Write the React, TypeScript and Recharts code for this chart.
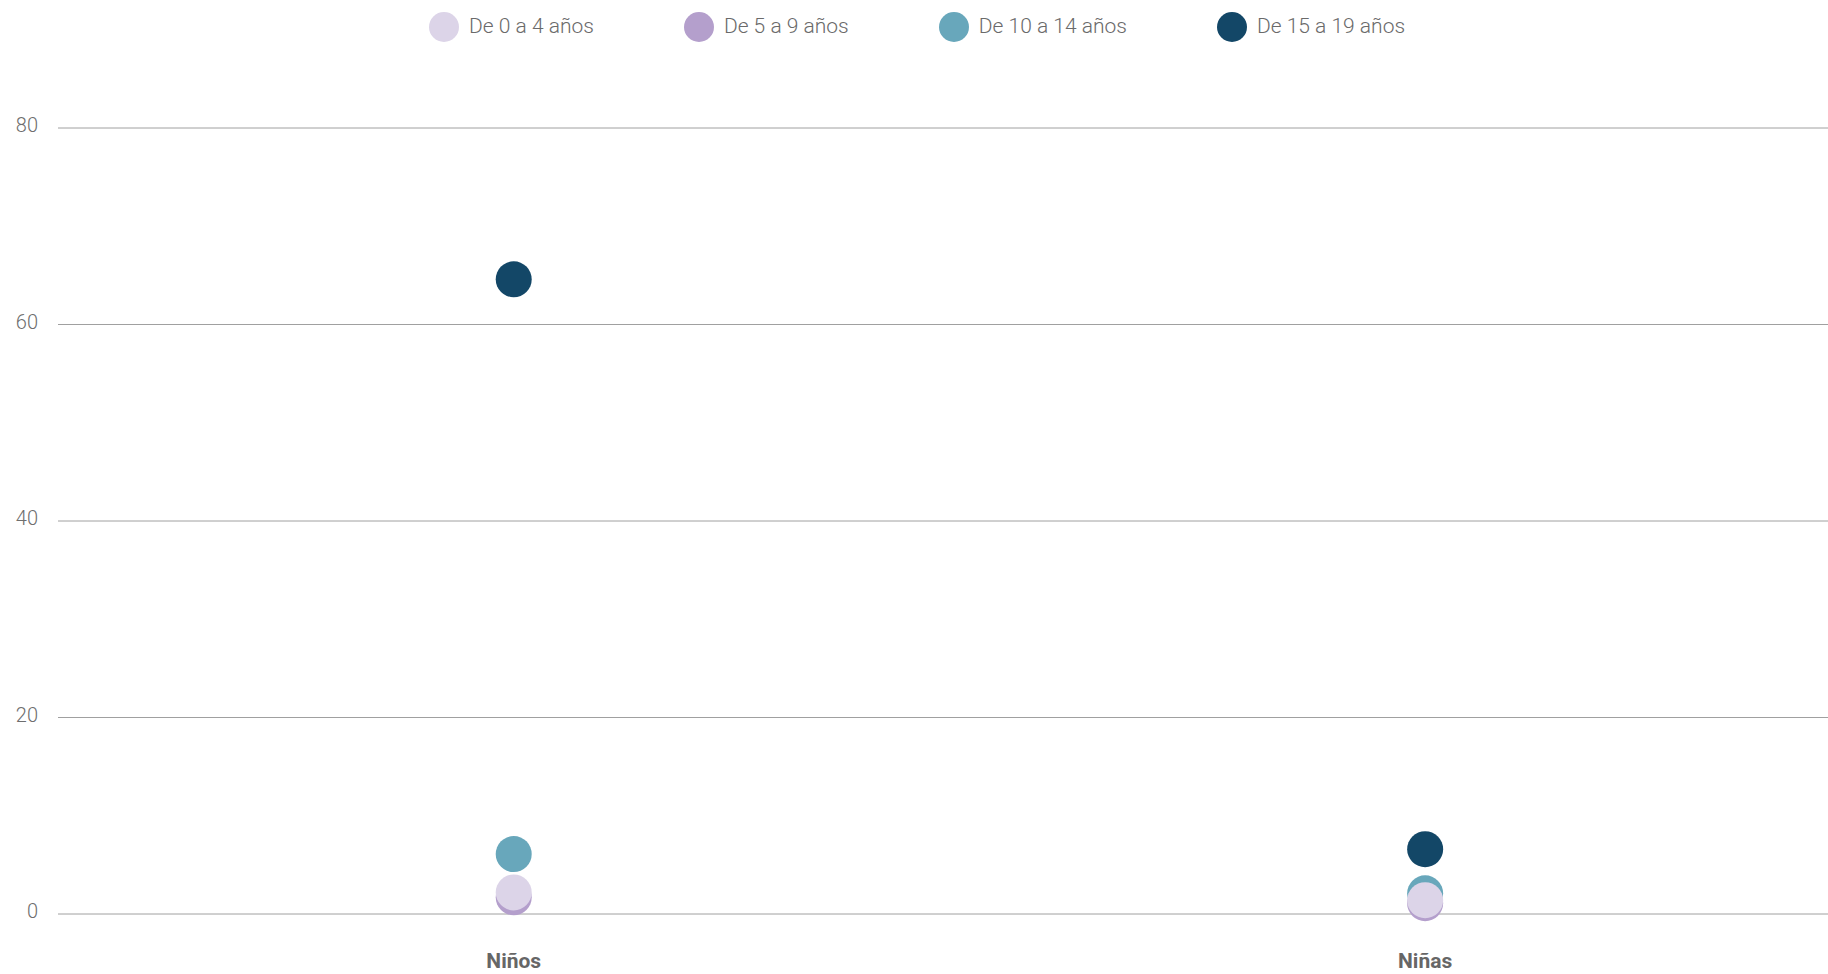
import React from "react";
import { ScatterChart, Scatter, XAxis, YAxis, CartesianGrid } from "recharts";

const categories = ["Niños", "Niñas"];
const seriesNames = ["De 0 a 4 años", "De 5 a 9 años", "De 10 a 14 años", "De 15 a 19 años"];
const seriesColors = ["#dcd4e8", "#b49fcc", "#68a7bb", "#134767"];
const age0to4 = [2.2, 1.4];
const age5to9 = [1.7, 1.1];
const age10to14 = [6.1, 2.1];
const age15to19 = [64.6, 6.6];
const yTicks = [0, 20, 40, 60, 80];

const seriesValues = [age0to4, age5to9, age10to14, age15to19];
const seriesData = seriesValues.map((vals) =>
  vals.map((v, i) => ({ x: i, y: v, cat: categories[i] }))
);

const FONT = "Roboto, 'Liberation Sans', Arial, sans-serif";

const Dot = (color: string) => (props: any) => (
  <circle cx={props.cx} cy={props.cy} r={18} fill={color} />
);

const YTick = (props: any) => (
  <text
    x={props.x}
    y={props.y + 4}
    textAnchor="end"
    fill="#6e6e6e"
    fontSize={20}
    fontWeight={300}
    fontFamily={FONT}
  >
    {props.payload.value}
  </text>
);

const XTick = (props: any) => (
  <text
    x={props.x}
    y={props.y + 54}
    textAnchor="middle"
    fill="#666666"
    fontSize={21}
    fontWeight={700}
    fontFamily={FONT}
  >
    {categories[props.payload.value]}
  </text>
);

export default function App() {
  const order = [3, 2, 1, 0];
  return (
    <div style={{ position: "relative", width: 1828, height: 974, overflow: "hidden" }}>
      <style>{"html,body{margin:0;padding:0;overflow:hidden;}"}</style>
      <div
        style={{
          position: "absolute",
          top: 12,
          left: 429,
          display: "flex",
          alignItems: "center",
          fontFamily: FONT,
          fontSize: 21,
          fontWeight: 300,
          color: "#6a6a6a",
          lineHeight: "30px",
          whiteSpace: "nowrap",
        }}
      >
        {seriesNames.map((n, i) => (
          <div key={n} style={{ display: "flex", alignItems: "center", marginRight: 90 }}>
            <span
              style={{
                display: "inline-block",
                width: 30,
                height: 30,
                borderRadius: 15,
                background: seriesColors[i],
                marginRight: 10,
              }}
            />
            <span style={{ position: "relative", top: -1 }}>{n}</span>
          </div>
        ))}
      </div>
      <ScatterChart
        width={1828}
        height={974}
        margin={{ top: 128, right: 0, bottom: 10, left: 0 }}
      >
        <CartesianGrid horizontal vertical={false} stroke="#a0a0a0" strokeWidth={1} />
        <XAxis
          type="number"
          dataKey="x"
          domain={[-0.5, 1.442]}
          ticks={[0, 1]}
          axisLine={false}
          tickLine={false}
          tickSize={0}
          tickMargin={0}
          height={50}
          tick={<XTick />}
          allowDataOverflow
        />
        <YAxis
          type="number"
          dataKey="y"
          domain={[0, 80]}
          ticks={yTicks}
          axisLine={false}
          tickLine={false}
          tickSize={0}
          tickMargin={20}
          width={58}
          tick={<YTick />}
        />
        {order.map((si) => (
          <Scatter
            key={seriesNames[si]}
            name={seriesNames[si]}
            data={seriesData[si]}
            fill={seriesColors[si]}
            shape={Dot(seriesColors[si])}
            isAnimationActive={false}
          />
        ))}
      </ScatterChart>
    </div>
  );
}
